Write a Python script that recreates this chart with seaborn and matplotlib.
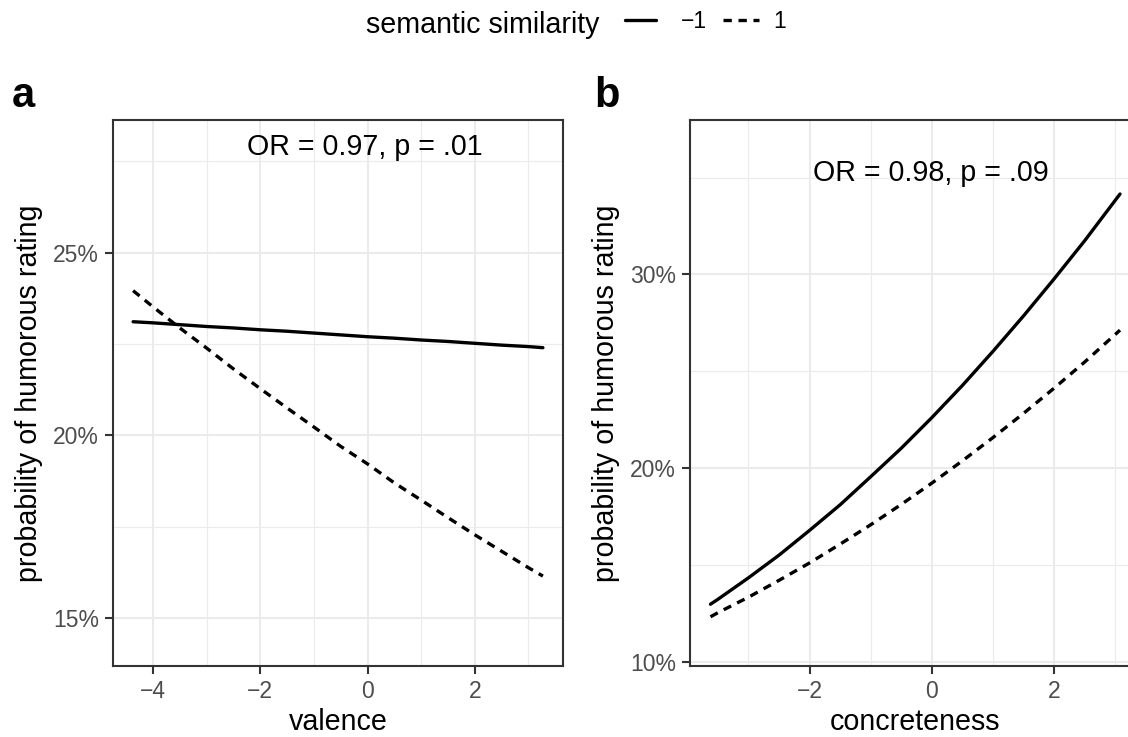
import numpy as np
import pandas as pd
import matplotlib
matplotlib.use("Agg")
import matplotlib.pyplot as plt
from matplotlib.lines import Line2D
from matplotlib.ticker import FuncFormatter, FixedLocator
import seaborn as sns

# values (probability in %)
valence_x = [-4.37, -4, -3.5, -3, -2.5, -2, -1.5, -1, -0.5, 0, 0.5, 1, 1.5, 2, 2.5, 3, 3.27]
valence_sim_neg = [23.11, 23.08, 23.03, 22.98, 22.94, 22.89, 22.85, 22.80, 22.75,
                   22.70, 22.66, 22.61, 22.57, 22.52, 22.47, 22.43, 22.40]
valence_sim_pos = [23.96, 23.52, 22.94, 22.39, 21.82, 21.28, 20.75, 20.23, 19.70,
                   19.22, 18.70, 18.23, 17.75, 17.28, 16.83, 16.38, 16.15]

concrete_x = [-3.62, -3.5, -3, -2.5, -2, -1.5, -1, -0.5, 0, 0.5, 1, 1.5, 2, 2.5, 3.08]
concrete_sim_neg = [12.97, 13.22, 14.33, 15.50, 16.78, 18.10, 19.55, 21.02, 22.60,
                    24.26, 26.02, 27.85, 29.76, 31.73, 34.15]
concrete_sim_pos = [12.32, 12.53, 13.33, 14.20, 15.10, 16.07, 17.07, 18.12, 19.22,
                    20.37, 21.57, 22.82, 24.12, 25.47, 27.12]

sim_levels = ["\u22121", "1"]
or_labels = ["OR = 0.97, p = .01", "OR = 0.98, p = .09"]
x_titles = ["valence", "concreteness"]
panel_letters = ["a", "b"]

sns.set_theme(style="white")
plt.rcParams["font.family"] = ["Liberation Sans", "DejaVu Sans"]
plt.rcParams["text.color"] = "black"
plt.rcParams["axes.labelcolor"] = "black"

def long_df(x, neg, pos):
    return pd.DataFrame({
        "x": list(x) + list(x),
        "prob": list(neg) + list(pos),
        "sim": [sim_levels[0]] * len(x) + [sim_levels[1]] * len(x),
    })

dfs = [long_df(valence_x, valence_sim_neg, valence_sim_pos),
       long_df(concrete_x, concrete_sim_neg, concrete_sim_pos)]

W, H = 1128, 737
fig = plt.figure(figsize=(W / 100, H / 100), dpi=100)

BORDER = "#333333"
GRID = "#EBEBEB"
LW = 2.4
DASH = (2.5, 2.0)

# axes positions in pixels: left, right, top, bottom
boxes = [(112.7, 563.3, 120, 666), (690, 1140.5, 120, 666)]
xlims = [(-4.75, 3.65), (-3.955, 3.415)]
ylims = [(13.69, 28.63), (9.78, 37.97)]
xmaj = [[-4, -2, 0, 2], [-2, 0, 2]]
xmin = [[-3, -1, 1, 3], [-3, -1, 1, 3]]
ymaj = [[15, 20, 25], [10, 20, 30]]
ymin = [[17.5, 22.5, 27.5], [15, 25, 35]]
text_pos = [(0.56, 0.9355), (0.5336, 0.8875)]
letter_x = [12, 594]

for i in range(2):
    l, r, t, b = boxes[i]
    ax = fig.add_axes([l / W, 1 - b / H, (r - l) / W, (b - t) / H])
    sns.lineplot(data=dfs[i], x="x", y="prob", style="sim", style_order=sim_levels,
                 dashes={sim_levels[0]: "", sim_levels[1]: DASH},
                 color="black", linewidth=LW, legend=False, ax=ax, zorder=3)
    ax.set_xlim(*xlims[i])
    ax.set_ylim(*ylims[i])
    ax.xaxis.set_major_locator(FixedLocator(xmaj[i]))
    ax.xaxis.set_minor_locator(FixedLocator(xmin[i]))
    ax.yaxis.set_major_locator(FixedLocator(ymaj[i]))
    ax.yaxis.set_minor_locator(FixedLocator(ymin[i]))
    ax.yaxis.set_major_formatter(FuncFormatter(lambda v, p: f"{v:.0f}%"))
    ax.grid(which="major", color=GRID, lw=1.5, zorder=0)
    ax.grid(which="minor", color=GRID, lw=0.8, zorder=0)
    ax.set_axisbelow(True)
    for s in ax.spines.values():
        s.set_color(BORDER)
        s.set_linewidth(1.5)
        s.set_visible(True)
    ax.tick_params(which="major", length=5.5, width=1.5, color=BORDER,
                   labelsize=16.5, labelcolor="#4D4D4D", pad=4.5,
                   bottom=True, left=True)
    ax.tick_params(which="minor", length=0)
    ax.set_xlabel(x_titles[i], fontsize=20.6, color="black", labelpad=4)
    ax.set_ylabel("probability of humorous rating", fontsize=20.6, color="black", labelpad=7)
    ax.text(*text_pos[i], or_labels[i], transform=ax.transAxes, ha="center",
            va="baseline", fontsize=20.6, color="black")
    fig.text(letter_x[i] / W, 1 - 107 / H, panel_letters[i], fontsize=30,
             fontweight="bold", va="baseline", ha="left", color="black")

# shared legend at the top: title, then one key per level
fig.text(600 / W, 1 - 33 / H, "semantic similarity", ha="right", va="baseline",
         fontsize=20.6, color="black")
key_x = [625, 723]
key_len = [1.35, 1.55]
key_pad = [1.1, 0.65]
for k in range(2):
    h = Line2D([], [], color="black", lw=LW)
    if k == 1:
        h.set_dashes(DASH)
    fig.legend([h], [sim_levels[k]], loc="center left",
               bbox_to_anchor=(key_x[k] / W, 1 - 22 / H), frameon=False,
               fontsize=16.5, handlelength=key_len[k], handletextpad=key_pad[k],
               borderpad=0, borderaxespad=0, labelcolor="black")

fig.savefig("out.png", dpi=100)
